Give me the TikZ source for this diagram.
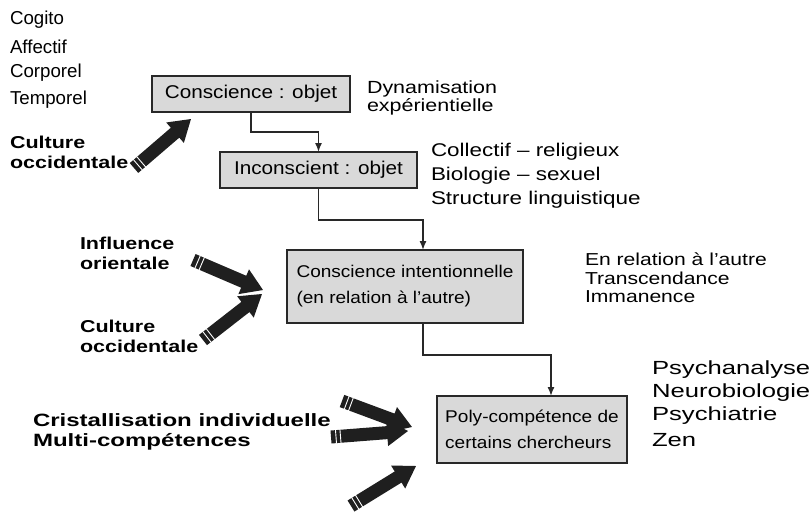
\documentclass[tikz,border=0pt]{standalone}
\usepackage{fontspec}
\setmainfont{Liberation Sans}
\newfontfamily\regwide[FakeStretch=1.12]{Liberation Sans}
\newfontfamily\regwider[FakeStretch=1.22]{Liberation Sans}
\newfontfamily\regwidest[FakeStretch=1.35]{Liberation Sans}
\newfontfamily\boldwide[FakeStretch=1.25]{Liberation Sans Bold}
\newfontfamily\boldwider[FakeStretch=1.35]{Liberation Sans Bold}
\usetikzlibrary{arrows.meta,calc}
\definecolor{boxgray}{RGB}{217,217,217}
\definecolor{linegray}{RGB}{40,40,40}
\newcommand{\blockarrow}[4]{%
  \pgfmathsetmacro\bdx{#3-#1}\pgfmathsetmacro\bdy{#4-#2}%
  \pgfmathsetmacro\bang{atan2(-\bdy,\bdx)}\pgfmathsetmacro\blen{veclen(\bdx,\bdy)}%
  \begin{scope}[shift={(#1,#2)},rotate=\bang]
    \fill[black!88] (0,-6.5)--(\blen-21,-6.5)--(\blen-21,-13.5)--(\blen,0)--(\blen-21,13.5)--(\blen-21,6.5)--(0,6.5)--cycle;
    \draw[white,line width=0.9pt] (5,-7)--(5,7) (9.5,-7)--(9.5,7);
  \end{scope}}
\tikzset{
  every node/.style={inner sep=0pt,outer sep=0pt},
  txt/.style={anchor=west,font=\fontsize{18.5}{22}\regwide,align=left},
  btxt/.style={anchor=west,font=\fontsize{17.2}{20}\boldwide,align=left},
  gbox/.style={draw=linegray,line width=1.2pt,fill=boxgray,font=\fontsize{18.5}{26}\regwide,align=left},
  conn/.style={draw=linegray,line width=1.4pt,-{Latex[length=9pt,width=7pt]}},
  topl/.style={txt,font=\fontsize{18.7}{20}\selectfont},
  coll/.style={txt,font=\fontsize{18.4}{22}\regwider},
  psy/.style={txt,font=\fontsize{19}{22}\regwidest}
}
\begin{document}
\begin{tikzpicture}[x=1pt,y=-1pt]
\useasboundingbox (0,0) rectangle (812,515);
% boxes
\node[gbox,minimum width=198pt,minimum height=36pt] (b1) at (251,94) {Conscience : objet};
\node[gbox,minimum width=197pt,minimum height=36pt] (b2) at (318.5,170) {Inconscient : objet};
\node[gbox,font=\fontsize{17}{26}\regwide,minimum width=236pt,minimum height=73pt] (b3) at (405,286.5) {Conscience intentionnelle\\(en relation à l’autre)};
\node[gbox,font=\fontsize{17}{26}\regwide,minimum width=190pt,minimum height=67pt] (b4) at (532,429.5) {Poly-compétence de\\certains chercheurs};
% connectors
\draw[conn] (b1.south) -- ++(0,20) -| (b2.north);
\draw[conn] (b2.south) -- ++(0,32) -| ([xshift=18pt]b3.north);
\draw[conn] ([xshift=18pt]b3.south) -- ++(0,32) -| ([xshift=19pt]b4.north);
% texts
\node[topl] (t1) at (10,20) {Cogito};
\node[topl] (t2) at (10,47) {Affectif};
\node[topl] (t3) at (10,73) {Corporel};
\node[topl] (t4) at (10,100) {Temporel};
\node[btxt] (c1) at (10,152) {Culture\\occidentale};
\node[txt,font=\fontsize{17.6}{18}\regwider] (d1) at (367,98) {Dynamisation\\expérientielle};
\node[coll] (k1) at (431,152) {Collectif – religieux};
\node[coll] (k2) at (431,176) {Biologie – sexuel};
\node[coll] (k3) at (431,200) {Structure linguistique};
\node[btxt] (io) at (80,253) {Influence\\orientale};
\node[btxt] (c2) at (80,336) {Culture\\occidentale};
\node[txt,font=\fontsize{17.3}{18.5}\regwider] (e1) at (585,278) {En relation à l’autre\\Transcendance\\Immanence};
\node[btxt,font=\fontsize{17.8}{20}\boldwider] (cr) at (33,432) {Cristallisation individuelle\\Multi-compétences};
\node[psy] (p1) at (652,370) {Psychanalyse};
\node[psy] (p2) at (652,393) {Neurobiologie};
\node[psy] (p3) at (652,416) {Psychiatrie};
\node[psy] (p4) at (652,440) {Zen};
% block arrows
\blockarrow{134}{168}{191}{119}
\blockarrow{193}{260}{263}{290}
\blockarrow{203}{340}{262}{294}
\blockarrow{342}{401}{412}{427}
\blockarrow{331}{437}{408}{431}
\blockarrow{351}{506}{416}{466}
\end{tikzpicture}
\end{document}
